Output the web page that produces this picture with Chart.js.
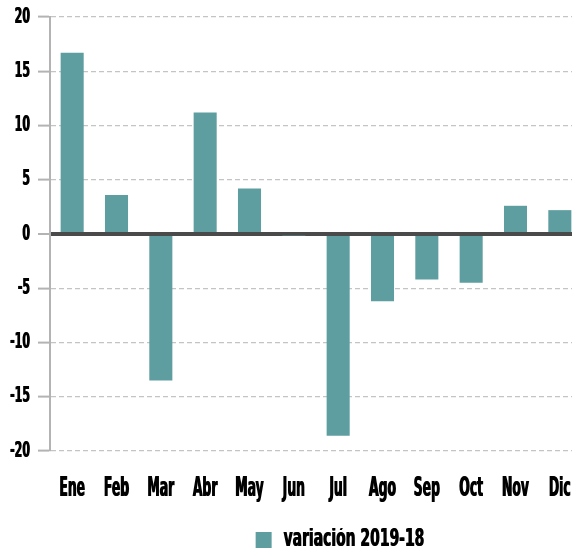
<!DOCTYPE html>
<html>
<head>
<meta charset="utf-8">
<script src="https://cdn.jsdelivr.net/npm/chart.js@4/dist/chart.umd.min.js"></script>
<style>
  html, body { margin: 0; padding: 0; background: #fff; overflow: hidden; }
  #wrap { position: absolute; left: 0; top: 0; width: 680px; height: 562px; }
</style>
</head>
<body>
<div id="wrap"><canvas id="variacionChart"></canvas></div>
<script>
// Meses y variación 2019-18
var meses = ['Ene', 'Feb', 'Mar', 'Abr', 'May', 'Jun', 'Jul', 'Ago', 'Sep', 'Oct', 'Nov', 'Dic'];
var variacion = [16.7, 3.6, -13.5, 11.2, 4.2, -0.15, -18.6, -6.2, -4.2, -4.5, 2.6, 2.2];
var serieNombre = 'variación 2019-18';
var yMin = -20, yMax = 20, yPaso = 5;

document.addEventListener('DOMContentLoaded', function() {
    var ctx = document.getElementById('variacionChart').getContext('2d');

    // No condensed font is installed, so squeeze the text horizontally
    // (factor picked by font size: x labels, y ticks, legend)
    var squeeze = { 27: 0.46, 22: 0.5, 24: 0.58 };
    function factor() {
        var m = /(\d+(?:\.\d+)?)px/.exec(ctx.font);
        return (m && squeeze[Math.round(+m[1])]) || 1;
    }
    var origFill = ctx.fillText.bind(ctx);
    var origMeasure = ctx.measureText.bind(ctx);
    ctx.fillText = function(text, x, y, maxWidth) {
        var k = factor();
        var mw = maxWidth !== undefined ? maxWidth / k : undefined;
        ctx.save();
        ctx.translate(x, y);
        ctx.scale(k, 1);
        // draw twice, slightly apart, to get a heavier stroke
        [-0.4 / k, 0.4 / k].forEach(function(dx) {
            if (mw !== undefined) origFill(text, dx, 0, mw);
            else origFill(text, dx, 0);
        });
        ctx.restore();
    };
    ctx.measureText = function(text) {
        var m = origMeasure(text);
        return {
            width: m.width * factor(),
            actualBoundingBoxAscent: m.actualBoundingBoxAscent,
            actualBoundingBoxDescent: m.actualBoundingBoxDescent,
            actualBoundingBoxLeft: m.actualBoundingBoxLeft,
            actualBoundingBoxRight: m.actualBoundingBoxRight
        };
    };

    // Legend sits a bit right of the canvas centre in the original
    var legendShift = {
        id: 'legendShift',
        afterLayout: function(chart) {
            if (chart.legend) {
                chart.legend.left += 49;
                chart.legend.right += 49;
            }
        }
    };

    var fuente = "'DejaVu Sans', sans-serif";
    var fuenteX = { family: fuente, size: 27, weight: 'bold' };
    var fuenteY = { family: fuente, size: 22, weight: 'bold' };
    var fuenteLeyenda = { family: fuente, size: 24, weight: 'bold' };

    var data = {
        labels: meses,
        datasets: [
            {
                label: serieNombre,
                data: variacion,
                backgroundColor: '#5f9ea0',
                borderWidth: 0,
                barPercentage: 0.52,
                categoryPercentage: 1.0
            }
        ]
    };

    var config = {
        type: 'bar',
        data: data,
        plugins: [legendShift],
        options: {
            responsive: true,
            maintainAspectRatio: false,
            animation: false,
            layout: {
                padding: { top: 17, right: 98, left: 0, bottom: 0 }
            },
            plugins: {
                tooltip: { enabled: false },
                legend: {
                    position: 'bottom',
                    labels: {
                        boxWidth: 16,
                        boxHeight: 16,
                        color: '#000',
                        padding: 0,
                        font: fuenteLeyenda
                    }
                }
            },
            scales: {
                x: {
                    afterFit: function(scale) { scale.height = 77; },
                    grid: { display: false, drawTicks: false },
                    border: { display: false },
                    ticks: {
                        color: '#000',
                        padding: 22,
                        maxRotation: 0,
                        autoSkip: false,
                        font: fuenteX
                    }
                },
                y: {
                    min: yMin,
                    max: yMax,
                    afterFit: function(scale) {
                        scale.width = 50;
                        scale.paddingTop = 0;
                        scale.paddingBottom = 0;
                    },
                    ticks: {
                        stepSize: yPaso,
                        color: '#000',
                        padding: 8,
                        font: fuenteY
                    },
                    grid: {
                        color: function(c) { return c.tick && c.tick.value === 0 ? '#4a4a4a' : '#c4c4c4'; },
                        lineWidth: function(c) { return c.tick && c.tick.value === 0 ? 4 : 1.2; },
                        tickLength: 12,
                        tickColor: '#b3b3b3',
                        tickWidth: 2,
                        tickBorderDash: []
                    },
                    border: {
                        display: true,
                        color: '#b3b3b3',
                        width: 2,
                        dash: function(c) { return c.tick && c.tick.value === 0 ? [] : [5, 3]; }
                    }
                }
            }
        }
    };

    new Chart(ctx, config);
});
</script>
</body>
</html>
